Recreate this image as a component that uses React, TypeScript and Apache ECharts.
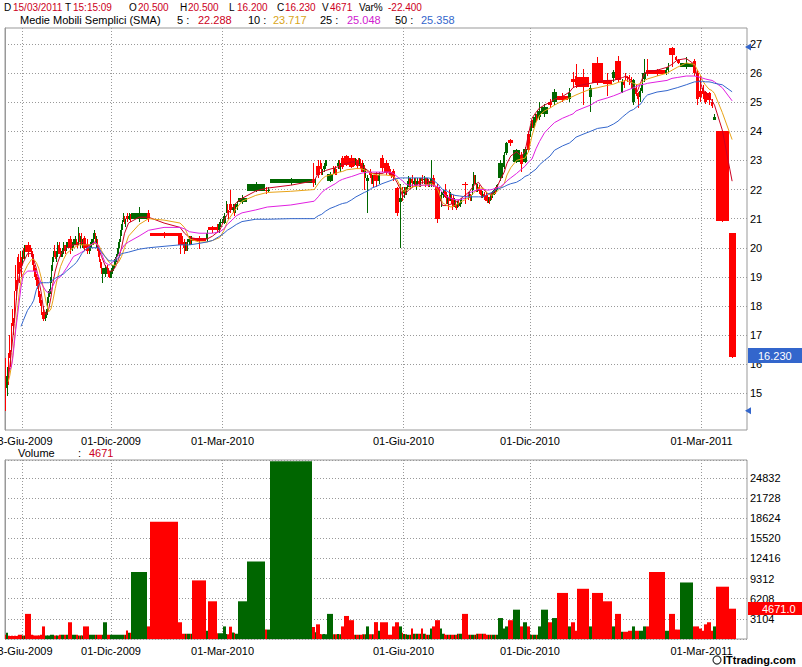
import React, { useEffect, useRef } from "react";
import * as echarts from "echarts";

// Equivolume candles: [open, close, low, high, volume, firstOfSession]
// (each original session may be shown as several thin trading prints; the flag marks the first one)
const candles: number[][] = [
  [15.9, 14.7, 14.4, 16.2, 645, 1],
  [15.2, 15.6, 14.9, 15.9, 970, 1],
  [16.2, 15.9, 15.6, 16.4, 490, 1], [15.9, 15.7, 15.3, 16.0, 480, 0],
  [16.6, 16.4, 16.2, 17.0, 490, 1], [16.4, 16.2, 15.9, 16.5, 480, 0],
  [17.2, 17.0, 16.8, 17.4, 490, 1], [17.0, 16.8, 16.5, 17.1, 480, 0],
  [17.7, 17.5, 17.3, 17.9, 490, 1], [17.5, 17.3, 17.0, 17.6, 480, 0],
  [18.3, 18.1, 17.9, 18.5, 490, 1], [18.1, 17.9, 17.5, 18.2, 480, 0],
  [19.0, 18.8, 18.5, 19.4, 490, 1], [18.8, 18.6, 18.2, 18.9, 480, 0],
  [19.6, 19.3, 19.1, 19.7, 490, 1], [19.3, 19.0, 18.6, 19.4, 480, 0],
  [19.5, 19.4, 19.1, 19.8, 650, 1], [19.4, 19.3, 18.8, 19.5, 640, 0],
  [19.8, 19.6, 19.3, 19.9, 650, 1], [19.6, 19.5, 19.0, 19.7, 640, 0],
  [19.6, 19.8, 19.4, 19.9, 550, 1], [19.8, 19.7, 19.6, 20.0, 530, 0], [19.7, 19.9, 19.6, 20.1, 530, 0],
  [20.1, 19.85, 19.7, 20.2, 3870, 1],
  [19.9, 19.8, 19.7, 20.0, 650, 1], [19.8, 19.6, 19.4, 19.9, 640, 0],
  [19.6, 19.5, 19.4, 19.8, 540, 1], [19.5, 19.3, 19.2, 19.6, 540, 0], [19.3, 19.2, 19.0, 19.4, 530, 0],
  [19.2, 19.0, 18.9, 19.3, 540, 1], [19.0, 18.9, 18.7, 19.1, 540, 0], [18.9, 18.8, 18.6, 19.0, 530, 0],
  [18.8, 18.6, 18.5, 18.9, 540, 1], [18.6, 18.4, 18.3, 18.7, 540, 0], [18.4, 18.3, 18.1, 18.5, 530, 0],
  [18.3, 18.1, 18.0, 18.4, 650, 1], [18.1, 17.9, 17.7, 18.2, 640, 0],
  [17.8, 17.55, 17.5, 18.0, 1940, 1],
  [17.6, 17.7, 17.5, 17.8, 540, 1], [17.7, 17.8, 17.6, 17.9, 540, 0], [17.8, 17.9, 17.7, 18.1, 530, 0],
  [18.0, 18.2, 17.9, 18.3, 540, 1], [18.2, 18.4, 18.1, 18.5, 540, 0], [18.4, 18.5, 18.3, 18.6, 530, 0],
  [18.5, 18.9, 18.4, 19.0, 650, 1], [18.9, 19.2, 18.8, 19.4, 640, 0],
  [19.3, 19.6, 19.2, 19.7, 650, 1], [19.6, 19.8, 19.5, 19.9, 640, 0],
  [19.9, 19.8, 19.7, 20.1, 540, 1], [19.8, 19.7, 19.6, 19.9, 540, 0], [19.7, 19.6, 19.5, 19.8, 530, 0],
  [19.7, 19.8, 19.5, 19.9, 540, 1], [19.8, 20.0, 19.7, 20.2, 540, 0], [20.0, 19.9, 19.8, 20.1, 530, 0],
  [20.0, 19.9, 19.8, 20.2, 650, 1], [19.9, 19.8, 19.7, 20.0, 650, 0], [19.8, 19.8, 19.7, 19.9, 640, 0],
  [19.8, 19.9, 19.7, 20.0, 650, 1], [19.9, 20.1, 19.8, 20.2, 650, 0], [20.1, 20.0, 19.9, 20.1, 640, 0],
  [20.0, 19.9, 19.8, 20.1, 650, 1], [19.9, 20.1, 19.9, 20.2, 650, 0], [20.1, 20.1, 20.0, 20.2, 640, 0],
  [20.3, 20.0, 19.8, 20.4, 2580, 1],
  [20.0, 20.1, 19.9, 20.2, 650, 1], [20.1, 20.2, 20.0, 20.3, 650, 0], [20.2, 20.2, 20.1, 20.3, 640, 0],
  [20.2, 20.3, 20.1, 20.4, 650, 1], [20.3, 20.2, 20.1, 20.3, 650, 0], [20.2, 20.1, 20.0, 20.2, 640, 0],
  [20.2, 20.4, 20.1, 20.7, 540, 1], [20.4, 20.3, 20.2, 20.5, 540, 0], [20.3, 20.3, 20.0, 20.4, 530, 0],
  [20.4, 20.3, 20.2, 20.5, 540, 1], [20.3, 20.2, 20.1, 20.4, 540, 0], [20.2, 20.2, 20.0, 20.3, 530, 0],
  [20.35, 20.0, 19.9, 20.4, 1940, 1],
  [20.1, 19.9, 19.8, 20.3, 1940, 1],
  [19.9, 20.0, 19.8, 20.1, 650, 1], [20.0, 20.1, 19.9, 20.2, 650, 0], [20.1, 20.2, 20.0, 20.3, 640, 0], [20.2, 20.2, 20.1, 20.3, 640, 0],
  [20.2, 20.4, 20.1, 20.5, 650, 1], [20.4, 20.5, 20.3, 20.6, 650, 0], [20.5, 20.3, 20.2, 20.5, 640, 0], [20.3, 20.3, 20.0, 20.4, 640, 0],
  [20.2, 20.0, 19.9, 20.3, 650, 1], [20.0, 19.8, 19.7, 20.1, 650, 0], [19.8, 19.6, 19.5, 19.9, 640, 0],
  [19.5, 19.4, 19.3, 19.6, 650, 1], [19.4, 19.2, 19.1, 19.5, 650, 0], [19.2, 19.2, 18.8, 19.3, 640, 0],
  [19.1, 19.3, 19.0, 19.4, 2580, 1],
  [19.3, 19.2, 19.1, 19.4, 650, 1], [19.2, 19.1, 19.0, 19.3, 650, 0], [19.1, 19.0, 18.95, 19.2, 640, 0], [19.0, 19.1, 18.95, 19.2, 640, 0],
  [19.1, 19.2, 18.95, 19.3, 650, 1], [19.2, 19.3, 19.1, 19.4, 650, 0], [19.3, 19.3, 19.2, 19.4, 640, 0],
  [19.4, 19.5, 19.3, 19.6, 650, 1], [19.5, 19.6, 19.4, 19.7, 650, 0], [19.6, 19.7, 19.5, 19.8, 640, 0],
  [19.8, 19.9, 19.7, 20.0, 650, 1], [19.9, 20.1, 19.8, 20.2, 650, 0], [20.1, 20.2, 20.0, 20.3, 640, 0],
  [20.3, 20.5, 20.2, 20.6, 650, 1], [20.5, 20.7, 20.4, 20.8, 650, 0], [20.7, 20.8, 20.6, 20.95, 640, 0],
  [21.0, 21.1, 20.9, 21.2, 650, 1], [21.1, 20.9, 20.8, 21.1, 650, 0], [20.9, 20.9, 20.7, 21.0, 640, 0],
  [21.1, 21.0, 20.9, 21.2, 1300, 1], [21.0, 21.1, 20.95, 21.2, 970, 0], [21.1, 21.0, 20.9, 21.15, 960, 0],
  [21.0, 21.2, 20.9, 21.4, 10320, 1],
  [21.2, 21.0, 20.9, 21.3, 1940, 1],
  [20.5, 20.4, 20.35, 20.55, 18060, 1],
  [20.5, 20.1, 19.8, 20.5, 2580, 1],
  [20.3, 20.2, 20.1, 20.4, 810, 1], [20.2, 20.0, 19.8, 20.3, 810, 0], [20.0, 20.1, 19.9, 20.2, 810, 0], [20.1, 20.0, 19.9, 20.2, 800, 0],
  [20.1, 20.2, 19.9, 20.3, 810, 1], [20.2, 20.3, 20.1, 20.4, 810, 0], [20.3, 20.2, 20.1, 20.4, 810, 0], [20.2, 20.3, 20.1, 20.4, 800, 0],
  [20.35, 20.25, 19.95, 20.4, 9030, 1],
  [20.3, 20.5, 20.2, 20.6, 1290, 1],
  [20.7, 20.6, 20.5, 20.75, 5810, 1],
  [20.7, 20.6, 20.5, 20.8, 900, 1], [20.6, 20.8, 20.5, 20.9, 900, 0], [20.8, 20.9, 20.7, 21.0, 880, 0], [20.9, 20.9, 20.8, 21.0, 870, 0],
  [20.85, 21.1, 20.8, 21.2, 1940, 1],
  [21.3, 21.4, 21.2, 21.6, 760, 1], [21.4, 21.3, 21.2, 21.5, 750, 0], [21.3, 21.2, 21.0, 21.3, 750, 0],
  [21.5, 21.3, 21.2, 22.0, 1900, 1], [21.3, 21.4, 21.2, 21.5, 990, 0], [21.4, 21.25, 21.1, 21.5, 980, 0],
  [21.3, 21.4, 21.2, 21.5, 810, 1], [21.4, 21.5, 21.3, 21.6, 800, 0],
  [21.55, 21.7, 21.5, 21.8, 5810, 1],
  [21.95, 22.2, 21.9, 22.25, 11930, 1],
  [22.0, 21.95, 21.85, 22.1, 1450, 1], [21.95, 22.0, 21.9, 22.1, 1450, 0],
  [22.2, 22.35, 22.15, 22.4, 27410, 1],
  [22.35, 22.2, 22.1, 22.9, 1850, 1], [22.2, 22.3, 22.15, 22.4, 1050, 0],
  [22.8, 22.5, 22.4, 23.0, 2260, 1],
  [22.9, 22.8, 22.7, 23.0, 760, 1], [22.8, 22.6, 22.5, 22.9, 750, 0], [22.6, 22.6, 22.5, 22.7, 750, 0],
  [22.7, 22.8, 22.6, 22.9, 760, 1], [22.8, 22.9, 22.7, 23.0, 750, 0], [22.9, 22.9, 22.8, 23.0, 750, 0],
  [22.3, 22.55, 22.25, 22.6, 3870, 1],
  [22.7, 22.6, 22.55, 22.8, 730, 1], [22.6, 22.7, 22.55, 22.75, 730, 0], [22.7, 22.6, 22.5, 22.8, 720, 0], [22.6, 22.55, 22.5, 22.7, 720, 0],
  [22.8, 22.9, 22.7, 23.0, 760, 1], [22.9, 22.8, 22.7, 23.0, 750, 0], [22.8, 22.8, 22.6, 22.9, 750, 0],
  [23.1, 22.8, 22.7, 23.15, 1940, 1],
  [23.15, 22.85, 22.8, 23.2, 3550, 1],
  [23.1, 22.8, 22.75, 23.2, 2900, 1],
  [23.0, 22.9, 22.8, 23.1, 650, 1], [22.9, 23.0, 22.85, 23.1, 650, 0], [23.0, 22.9, 22.8, 23.05, 640, 0], [22.9, 22.85, 22.7, 23.0, 640, 0],
  [23.0, 22.9, 22.8, 23.1, 650, 1], [22.9, 23.0, 22.8, 23.1, 650, 0], [23.0, 22.85, 22.7, 23.05, 640, 0], [22.85, 22.8, 22.6, 22.9, 640, 0],
  [22.9, 22.7, 22.6, 23.0, 730, 1], [22.7, 22.8, 22.6, 22.9, 730, 0], [22.8, 22.5, 22.0, 22.85, 720, 0], [22.5, 22.6, 22.4, 22.7, 720, 0],
  [22.3, 22.4, 21.2, 22.5, 1940, 1],
  [22.6, 22.5, 22.4, 22.7, 730, 1], [22.5, 22.3, 22.2, 22.6, 730, 0], [22.3, 22.4, 22.2, 22.5, 720, 0], [22.4, 22.3, 22.1, 22.5, 720, 0],
  [22.5, 22.3, 22.1, 22.6, 2600, 1], [22.3, 22.5, 22.2, 22.6, 1270, 0],
  [23.1, 22.75, 22.6, 23.2, 2580, 1],
  [22.9, 22.6, 22.5, 23.0, 2580, 1],
  [22.85, 22.7, 22.6, 22.9, 650, 1], [22.7, 22.6, 22.5, 22.8, 650, 0], [22.6, 22.55, 22.45, 22.7, 640, 0], [22.55, 22.5, 22.4, 22.6, 640, 0],
  [22.65, 22.45, 22.3, 22.7, 1940, 1],
  [22.05, 21.2, 21.1, 22.1, 2580, 1],
  [21.55, 21.7, 20.0, 22.2, 1940, 1],
  [22.0, 21.8, 21.6, 22.1, 970, 1],
  [21.9, 22.0, 21.7, 22.1, 760, 1], [22.0, 21.9, 21.8, 22.1, 750, 0], [21.9, 22.0, 21.8, 22.1, 750, 0],
  [22.0, 22.2, 22.0, 22.3, 650, 1], [22.2, 22.3, 22.1, 22.45, 650, 0], [22.3, 22.2, 22.1, 22.4, 640, 0], [22.2, 22.3, 22.1, 22.4, 640, 0],
  [22.35, 22.2, 22.1, 22.5, 1600, 1], [22.2, 22.3, 22.15, 22.4, 820, 0], [22.3, 22.2, 22.1, 22.4, 810, 0],
  [22.2, 22.25, 22.0, 22.3, 810, 1], [22.25, 22.3, 22.15, 22.4, 810, 0], [22.3, 22.2, 22.1, 22.4, 810, 0], [22.2, 22.3, 22.1, 22.4, 800, 0],
  [22.4, 22.3, 22.2, 22.5, 1600, 1], [22.3, 22.35, 22.2, 22.45, 820, 0], [22.35, 22.3, 22.1, 22.4, 810, 0],
  [22.3, 22.25, 22.15, 22.4, 650, 1], [22.25, 22.3, 22.15, 22.4, 650, 0], [22.3, 22.2, 22.1, 22.35, 640, 0], [22.2, 22.2, 22.1, 22.3, 640, 0],
  [22.2, 22.4, 22.1, 23.0, 1610, 1],
  [22.4, 22.2, 22.1, 22.5, 1940, 1],
  [22.1, 21.0, 20.85, 22.2, 2900, 1],
  [21.6, 21.8, 21.4, 21.9, 1600, 1], [21.8, 21.9, 21.7, 22.0, 820, 0], [21.9, 21.85, 21.75, 22.0, 810, 0],
  [22.1, 21.8, 21.7, 22.2, 650, 1], [21.8, 21.6, 21.5, 21.9, 650, 0], [21.6, 21.7, 21.5, 21.8, 640, 0], [21.7, 21.5, 21.3, 21.75, 640, 0],
  [21.9, 21.7, 21.6, 22.0, 650, 1], [21.7, 21.8, 21.6, 21.9, 650, 0], [21.8, 21.6, 21.5, 21.85, 640, 0], [21.6, 21.5, 21.3, 21.7, 640, 0],
  [21.7, 21.5, 21.4, 21.8, 650, 1], [21.5, 21.6, 21.4, 21.7, 650, 0], [21.6, 21.45, 21.35, 21.65, 640, 0], [21.45, 21.4, 21.3, 21.5, 640, 0],
  [21.4, 21.5, 21.35, 21.6, 810, 1], [21.5, 21.45, 21.4, 21.6, 810, 0], [21.45, 21.55, 21.4, 21.65, 810, 0], [21.55, 21.6, 21.5, 21.7, 800, 0],
  [22.2, 22.15, 21.5, 22.25, 3870, 1],
  [21.8, 21.75, 21.65, 21.9, 650, 1], [21.75, 21.8, 21.7, 21.9, 650, 0], [21.8, 21.7, 21.6, 21.85, 640, 0], [21.7, 21.7, 21.6, 21.8, 640, 0],
  [21.9, 22.1, 21.8, 22.2, 650, 1], [22.1, 22.4, 22.0, 22.6, 650, 0], [22.4, 22.3, 22.2, 22.5, 640, 0], [22.3, 22.4, 22.2, 22.5, 640, 0],
  [22.1, 22.0, 21.9, 22.2, 810, 1], [22.0, 22.1, 21.9, 22.2, 810, 0], [22.1, 21.95, 21.85, 22.15, 810, 0], [21.95, 21.9, 21.8, 22.0, 800, 0],
  [21.9, 21.8, 21.7, 22.0, 810, 1], [21.8, 21.85, 21.7, 21.95, 810, 0], [21.85, 21.75, 21.65, 21.9, 810, 0], [21.75, 21.7, 21.6, 21.8, 800, 0],
  [21.8, 21.7, 21.6, 21.9, 650, 1], [21.7, 21.65, 21.55, 21.8, 650, 0], [21.65, 21.7, 21.55, 21.75, 640, 0], [21.7, 21.6, 21.5, 21.75, 640, 0],
  [21.7, 21.8, 21.6, 21.85, 650, 1], [21.8, 21.75, 21.65, 21.9, 650, 0], [21.75, 21.85, 21.7, 21.95, 640, 0], [21.85, 21.9, 21.8, 22.0, 640, 0],
  [21.9, 22.0, 21.8, 22.05, 650, 1], [22.0, 21.95, 21.85, 22.1, 650, 0], [21.95, 22.05, 21.9, 22.15, 640, 0], [22.05, 22.1, 22.0, 22.2, 640, 0],
  [22.4, 22.9, 22.3, 23.0, 3230, 1],
  [22.8, 23.2, 22.7, 23.3, 1610, 1],
  [23.25, 23.6, 23.2, 23.65, 1940, 1],
  [23.7, 23.6, 23.5, 23.75, 2900, 1],
  [22.95, 23.35, 22.9, 23.4, 4520, 1],
  [23.2, 22.9, 22.6, 23.3, 1940, 1],
  [22.95, 23.4, 22.9, 23.45, 2580, 1],
  [23.9, 23.35, 23.3, 24.0, 1940, 1],
  [23.9, 24.1, 23.8, 24.2, 650, 1], [24.1, 24.3, 24.0, 24.4, 650, 0], [24.3, 24.2, 24.1, 24.4, 640, 0], [24.2, 24.4, 24.1, 24.5, 640, 0],
  [24.3, 24.4, 24.1, 24.5, 650, 1], [24.4, 24.5, 24.3, 24.6, 650, 0], [24.5, 24.45, 24.35, 24.6, 640, 0], [24.45, 24.6, 24.4, 24.7, 640, 0],
  [24.5, 24.7, 24.4, 25.0, 1940, 1],
  [24.6, 24.85, 24.5, 24.95, 4520, 1],
  [25.0, 24.9, 24.8, 25.1, 2580, 1],
  [25.0, 25.35, 24.9, 25.45, 3230, 1],
  [25.2, 25.05, 25.0, 25.3, 7100, 1],
  [25.1, 25.3, 25.0, 25.5, 1940, 1],
  [25.8, 25.7, 25.5, 26.05, 2580, 1],
  [25.9, 25.6, 25.5, 26.3, 1290, 1],
  [25.85, 25.5, 24.9, 26.15, 7740, 1],
  [25.2, 25.5, 24.65, 25.6, 1940, 1],
  [26.35, 25.65, 25.6, 26.55, 7100, 1],
  [25.75, 25.6, 25.2, 26.0, 5810, 1],
  [25.85, 26.05, 25.7, 26.1, 1940, 1],
  [26.4, 25.75, 25.7, 26.6, 3870, 1],
  [25.35, 25.7, 25.3, 25.8, 1130, 1], [25.7, 25.6, 25.5, 25.75, 1130, 0],
  [25.9, 25.85, 25.75, 26.0, 1130, 1], [25.85, 25.8, 25.7, 25.9, 1130, 0],
  [25.85, 25.8, 25.6, 25.95, 1290, 1], [25.8, 25.75, 25.5, 25.85, 1290, 0],
  [25.0, 25.75, 24.9, 25.8, 1940, 1],
  [25.5, 25.3, 25.2, 25.6, 1290, 1], [25.3, 25.1, 24.8, 25.35, 1290, 0],
  [25.2, 25.4, 25.0, 25.5, 1290, 1], [25.4, 25.6, 25.3, 26.0, 1290, 0],
  [25.8, 26.0, 25.7, 26.5, 1940, 1],
  [26.1, 25.95, 25.9, 26.5, 1940, 1],
  [26.1, 25.97, 25.9, 26.15, 10320, 1],
  [26.0, 26.1, 25.95, 26.2, 1290, 1], [26.1, 26.2, 26.05, 26.35, 1290, 0],
  [26.85, 26.6, 26.2, 26.9, 3870, 1],
  [26.55, 26.45, 26.4, 26.6, 1450, 1], [26.45, 26.35, 26.3, 26.5, 1450, 0],
  [26.2, 26.35, 26.15, 26.55, 8710, 1],
  [26.4, 26.0, 25.9, 26.5, 1940, 1],
  [26.0, 25.1, 24.9, 26.1, 1940, 1],
  [25.4, 25.2, 25.0, 25.9, 1610, 1],
  [25.5, 25.3, 25.1, 25.6, 1290, 1],
  [25.35, 25.0, 24.95, 25.4, 2260, 1],
  [25.3, 25.05, 24.9, 25.35, 2580, 1],
  [25.0, 24.85, 24.8, 25.1, 1290, 1],
  [24.4, 24.5, 24.4, 24.6, 1940, 1],
  [24.0, 20.92, 20.9, 24.0, 8060, 1],
  [20.5, 16.23, 16.2, 20.5, 4671, 1],
];

// moving averages, one value per session
const ma5: (number | null)[] = [
  null, null, 15.5, 15.9, 16.4, 16.9, 17.4, 18.0, 18.6, 19.0, 19.3, 19.5, 19.8, 19.8, 19.6, 19.3, 18.9, 18.5, 17.9, 17.7,
  17.9, 18.3, 18.8, 19.2, 19.5, 19.75, 19.9, 20.0, 20.05, 20.1, 20.1, 20.15, 20.2, 20.15, 20.1, 20.1, 20.2, 20.0, 19.7, 19.4,
  19.2, 19.2, 19.35, 19.6, 20.0, 20.5, 20.85, 21.05, 21.05, 20.85, 20.7, 20.5, 20.35, 20.3, 20.3, 20.4, 20.6, 20.95, 21.15, 21.35,
  21.55, 21.7, 21.95, 22.05, 22.15, 22.3, 22.55, 22.6, 22.65, 22.7, 22.75, 22.8, 22.85, 22.9, 22.95, 22.95, 22.85, 22.75, 22.65, 22.55,
  22.55, 22.55, 22.6, 22.55, 22.45, 22.25, 22.0, 21.75, 21.85, 22.0, 22.1, 22.2, 22.25, 22.27, 22.28, 22.2, 21.95, 21.45, 21.45, 21.5,
  21.55, 21.65, 21.8, 21.95, 22.15, 22.25, 22.0, 21.85, 21.85, 22.0, 22.35, 22.6, 22.9, 23.15, 23.3, 23.15, 23.3, 23.9, 24.45, 24.65,
  24.8, 24.9, 25.0, 25.1, 25.2, 25.35, 25.5, 25.55, 25.6, 25.65, 25.7, 25.75, 25.75, 25.8, 25.85, 25.9, 25.75, 25.5, 25.35, 25.7,
  26.0, 26.05, 26.1, 26.2, 26.3, 26.45, 26.5, 26.3, 25.8, 25.7, 25.45, 25.35, 25.2, 25.05, 24.9, 24.05, 22.288,
];
const ma10: (number | null)[] = [
  null, null, 15.4, 15.6, 15.9, 16.3, 16.8, 17.3, 17.8, 18.4, 18.9, 19.1, 19.4, 19.6, 19.6, 19.5, 19.3, 19.0, 18.6, 18.1,
  17.8, 17.9, 18.2, 18.6, 19.0, 19.35, 19.6, 19.8, 19.9, 20.0, 20.05, 20.1, 20.1, 20.1, 20.1, 20.1, 20.15, 20.1, 19.9, 19.7,
  19.5, 19.4, 19.4, 19.5, 19.7, 20.0, 20.4, 20.8, 21.0, 20.95, 20.85, 20.7, 20.3, 20.2, 20.2, 20.25, 20.35, 20.6, 20.9, 21.15,
  21.35, 21.6, 21.8, 21.9, 21.94, 22.0, 22.2, 22.35, 22.45, 22.5, 22.55, 22.6, 22.62, 22.68, 22.7, 22.72, 22.72, 22.68, 22.62, 22.55,
  22.5, 22.5, 22.5, 22.48, 22.45, 22.35, 22.1, 21.95, 21.95, 22.05, 22.1, 22.12, 22.15, 22.18, 22.2, 22.15, 22.0, 21.55, 21.45, 21.4,
  21.45, 21.55, 21.65, 21.75, 21.9, 22.05, 22.05, 21.85, 21.8, 21.9, 22.05, 22.2, 22.5, 22.75, 23.0, 23.05, 23.08, 23.3, 23.85, 24.3,
  24.55, 24.7, 24.8, 24.9, 25.05, 25.15, 25.2, 25.25, 25.35, 25.45, 25.5, 25.58, 25.62, 25.68, 25.72, 25.75, 25.7, 25.65, 25.6, 25.65,
  25.75, 25.8, 25.9, 26.0, 26.1, 26.2, 26.35, 26.3, 26.1, 25.95, 25.75, 25.6, 25.45, 25.4, 25.3, 24.65, 23.717,
];
const ma25: (number | null)[] = [
  null, null, null, 15.8, 15.9, 16.2, 16.7, 17.2, 17.6, 18.1, 18.65, 19.05, 19.2, 19.2, 19.2, 19.2, 19.0, 18.8, 18.65, 18.5,
  18.45, 18.55, 18.7, 18.85, 18.95, 19.0, 19.15, 19.3, 19.5, 19.7, 19.75, 19.8, 19.85, 19.9, 20.0, 20.1, 20.2, 20.05, 19.8, 19.5,
  19.4, 19.5, 19.6, 19.75, 19.95, 20.1, 20.2, 20.4, 20.6, 20.7, 20.7, 20.65, 20.55, 20.5, 20.5, 20.5, 20.55, 20.65, 20.8, 20.95,
  21.1, 21.2, 21.3, 21.4, 21.47, 21.6, 21.75, 21.9, 22.0, 22.1, 22.2, 22.3, 22.35, 22.4, 22.45, 22.5, 22.55, 22.58, 22.6, 22.6,
  22.6, 22.6, 22.6, 22.6, 22.55, 22.45, 22.35, 22.3, 22.2, 22.15, 22.15, 22.15, 22.15, 22.15, 22.15, 22.12, 22.1, 21.9, 21.75, 21.7,
  21.65, 21.65, 21.7, 21.9, 21.95, 22.0, 22.0, 21.98, 22.0, 22.05, 22.1, 22.2, 22.3, 22.4, 22.55, 22.7, 22.8, 22.95, 23.05, 23.4,
  23.65, 23.95, 24.15, 24.3, 24.45, 24.55, 24.6, 24.7, 24.8, 24.9, 25.05, 25.15, 25.22, 25.28, 25.35, 25.4, 25.45, 25.5, 25.55, 25.6,
  25.62, 25.65, 25.7, 25.75, 25.82, 25.85, 25.9, 25.9, 25.88, 25.85, 25.83, 25.8, 25.77, 25.75, 25.7, 25.5, 25.048,
];
const ma50: (number | null)[] = [
  null, null, null, null, null, null, null, null, null, null, 17.3, 17.5, 17.85, 18.05, 18.2, 18.55, 18.75, 18.8, 18.8, 18.8,
  18.8, 18.85, 18.9, 18.95, 19.0, 19.05, 19.1, 19.2, 19.3, 19.4, 19.5, 19.65, 19.8, 19.9, 20.0, 20.0, 20.0, 20.0, 19.85, 19.7,
  19.55, 19.55, 19.55, 19.65, 19.8, 19.82, 19.85, 19.95, 20.0, 20.05, 20.1, 20.1, 20.1, 20.15, 20.2, 20.25, 20.4, 20.5, 20.6, 20.7,
  20.8, 20.9, 20.98, 20.98, 21.0, 21.0, 21.1, 21.15, 21.25, 21.35, 21.42, 21.48, 21.52, 21.55, 21.65, 21.75, 21.82, 21.9, 21.95, 22.05,
  22.12, 22.2, 22.25, 22.3, 22.35, 22.38, 22.4, 22.4, 22.4, 22.4, 22.4, 22.4, 22.4, 22.4, 22.38, 22.3, 22.2, 22.0, 21.95, 21.85,
  21.8, 21.78, 21.75, 21.75, 21.75, 21.75, 21.75, 21.85, 21.9, 22.0, 22.05, 22.1, 22.15, 22.2, 22.25, 22.35, 22.45, 22.5, 22.6, 22.7,
  22.85, 23.0, 23.15, 23.35, 23.5, 23.6, 23.7, 23.8, 23.9, 24.0, 24.1, 24.15, 24.25, 24.35, 24.5, 24.6, 24.7, 24.75, 24.85, 24.95,
  25.15, 25.25, 25.35, 25.4, 25.45, 25.5, 25.6, 25.7, 25.7, 25.72, 25.72, 25.7, 25.7, 25.68, 25.65, 25.6, 25.358,
];

// date labels: session index (0-based) where each date starts
const dateLabelIdx = [11, 41, 57, 88, 118, 150];
const dateLabelText = ["03-Giu-2009", "01-Dic-2009", "01-Mar-2010", "01-Giu-2010", "01-Dic-2010", "01-Mar-2011"];

const priceTicks = [15, 16, 17, 18, 19, 20, 21, 22, 23, 24, 25, 26, 27];
const volumeInterval = 3104;

const header1 = [
  { t: "D", c: "k", x: 4 }, { t: "15/03/2011", c: "r", x: 13 }, { t: "T", c: "k", x: 65 }, { t: "15:15:09", c: "r", x: 73 },
  { t: "O", c: "k", x: 129 }, { t: "20.500", c: "r", x: 138 }, { t: "H", c: "k", x: 180 }, { t: "20.500", c: "r", x: 188 },
  { t: "L", c: "k", x: 229 }, { t: "16.200", c: "r", x: 237 }, { t: "C", c: "k", x: 277 }, { t: "16.230", c: "r", x: 285 },
  { t: "V", c: "k", x: 322 }, { t: "4671", c: "r", x: 330 }, { t: "Var%", c: "k", x: 359 }, { t: "-22.400", c: "r", x: 388 },
];
const header2 = [
  { t: "Medie Mobili Semplici (SMA)", c: "#000", x: 20 },
  { t: "5 :", c: "#000", x: 177 }, { t: "22.288", c: "#cc0022", x: 198 },
  { t: "10 :", c: "#000", x: 248 }, { t: "23.717", c: "#d9a520", x: 273 },
  { t: "25 :", c: "#000", x: 320 }, { t: "25.048", c: "#d020d0", x: 347 },
  { t: "50 :", c: "#000", x: 395 }, { t: "25.358", c: "#3366cc", x: 421 },
];

const RED = "#ff0000";
const GREEN = "#006600";
const VALRED = "#cc0022";
const BLUE = "#3366cc";
const MA_COLORS = ["#cc0022", "#e8a317", "#e020e0", "#3366cc"];
const FONT = "Liberation Sans, Arial, sans-serif";

export default function App() {
  const ref = useRef<HTMLDivElement>(null);
  useEffect(() => {
    document.body.style.margin = "0";
    const chart = echarts.init(ref.current!, null, { renderer: "svg" });

    // cumulative volume positions
    const starts: number[] = [];
    let acc = 0;
    candles.forEach((c) => { starts.push(acc); acc += c[4]; });
    const total = acc;
    const xMax = total * (742 / 730.74);
    // session boundaries
    const sessStart: number[] = [];
    candles.forEach((c, i) => { if (c[5] === 1) sessStart.push(starts[i]); });
    const sessEnd = sessStart.slice(1).concat([total]);
    const centers = sessStart.map((s, k) => (s + sessEnd[k]) / 2);

    const rows = candles.map((c, i) => [starts[i], starts[i] + c[4], c[0], c[1], c[2], c[3], c[1] >= c[0] ? 1 : -1]);
    const volRows = candles.map((c, i) => [starts[i], starts[i] + c[4], c[4], c[1] >= c[0] ? 1 : -1]);
    const tickVals = dateLabelIdx.map((i) => sessStart[i]);
    const labelFor = (v: number) => {
      for (let k = 0; k < tickVals.length; k++) if (Math.abs(tickVals[k] - v) < 1) return dateLabelText[k];
      return "";
    };
    const lastVol = candles[candles.length - 1][4];
    const lastClose = candles[candles.length - 1][1];
    const maxHigh = Math.max(...candles.map((c) => c[3]));
    const minLow = Math.min(...candles.map((c) => c[2]));

    const xAxisOf = (gridIndex: number) => ({
      type: "value", gridIndex, min: 0, max: xMax,
      axisLine: { show: false },
      axisTick: { show: false, customValues: tickVals },
      axisLabel: {
        customValues: tickVals, formatter: (v: number) => labelFor(v), color: "#000",
        fontSize: 11, fontFamily: FONT, margin: gridIndex === 0 ? 5 : 6,
      },
      splitLine: { show: true, lineStyle: { color: "#999", type: [1, 2], width: 1 } },
    });

    const renderCandle = (params: any, api: any) => {
      const xs = api.value(0), xe = api.value(1);
      const o = api.value(2), c = api.value(3), l = api.value(4), h = api.value(5);
      const color = api.value(6) > 0 ? GREEN : RED;
      const pO = api.coord([xs, o]);
      const pC = api.coord([xe, c]);
      const pL = api.coord([xs, l]);
      const pH = api.coord([xs, h]);
      const x0 = Math.round(pO[0]);
      const x1 = Math.round(pC[0]);
      const w = Math.max(1, x1 - x0);
      const top = Math.round(Math.min(pO[1], pC[1]));
      const hh = Math.max(1, Math.round(Math.abs(pO[1] - pC[1])));
      const cx = x0 + Math.floor(w / 2) + 0.5;
      return {
        type: "group",
        children: [
          { type: "line", shape: { x1: cx, y1: Math.round(pH[1]), x2: cx, y2: Math.round(pL[1]) }, style: { stroke: color, lineWidth: 1 } },
          { type: "rect", shape: { x: x0, y: top, width: w, height: hh }, style: { fill: color } },
        ],
      };
    };
    const renderVolume = (params: any, api: any) => {
      const xs = api.value(0), xe = api.value(1), v = api.value(2);
      const color = api.value(3) > 0 ? GREEN : RED;
      const p0 = api.coord([xs, v]);
      const p1 = api.coord([xe, 0]);
      const x0 = Math.round(p0[0]);
      const w = Math.max(1, Math.round(p1[0]) - x0);
      return { type: "rect", shape: { x: x0, y: p0[1], width: w, height: p1[1] - p0[1] }, style: { fill: color } };
    };

    const maSeries = [ma5, ma10, ma25, ma50].map((arr, k) => ({
      type: "line", xAxisIndex: 0, yAxisIndex: 0, showSymbol: false, symbol: "none", connectNulls: true,
      data: arr.map((v, i) => [centers[i], v == null ? "-" : v]),
      lineStyle: { color: MA_COLORS[k], width: 1 }, z: 5, silent: true,
    }));

    const gridBase = { left: 5, right: 55, containLabel: false, outerBoundsMode: "none", show: true, borderColor: "#999", borderWidth: 1, backgroundColor: "#fff" };
    chart.setOption({
      animation: false,
      backgroundColor: "#fff",
      textStyle: { fontFamily: FONT },
      grid: [
        { ...gridBase, top: 28, height: 402 },
        { ...gridBase, top: 460, height: 179 },
      ],
      xAxis: [xAxisOf(0), xAxisOf(1)],
      yAxis: [
        {
          type: "value", gridIndex: 0, position: "right", min: 13.74, max: 27.55, scale: true,
          axisLine: { show: true, lineStyle: { color: "#999" } },
          axisTick: { show: false, customValues: priceTicks },
          axisLabel: { customValues: priceTicks, formatter: (v: number) => String(v), color: "#000", fontSize: 11, fontFamily: FONT, margin: 3 },
          splitLine: { show: true, lineStyle: { color: "#999", type: [1, 2], width: 1 } },
        },
        {
          type: "value", gridIndex: 1, position: "right", min: 0, max: 27586, interval: volumeInterval,
          axisLine: { show: true, lineStyle: { color: "#999" } },
          axisTick: { show: false },
          axisLabel: { showMinLabel: false, showMaxLabel: false, formatter: (v: number) => String(v), color: "#000", fontSize: 11, fontFamily: FONT, margin: 3 },
          splitLine: { show: true, lineStyle: { color: "#999", type: [1, 2], width: 1 } },
        },
      ],
      series: [
        { type: "custom", xAxisIndex: 0, yAxisIndex: 0, renderItem: renderCandle, data: rows, encode: { x: [0, 1], y: [2, 3, 4, 5] }, z: 3, silent: true },
        ...maSeries,
        { type: "custom", xAxisIndex: 1, yAxisIndex: 1, renderItem: renderVolume, data: volRows, encode: { x: [0, 1], y: 2 }, z: 3, silent: true },
      ],
    });

    const yClose = chart.convertToPixel({ yAxisIndex: 0 }, lastClose) as number;
    const yVol = chart.convertToPixel({ yAxisIndex: 1 }, lastVol) as number;
    const yMax = chart.convertToPixel({ yAxisIndex: 0 }, maxHigh) as number;
    const yMin = chart.convertToPixel({ yAxisIndex: 0 }, minLow) as number;
    const axisX = 747;

    const txt = (t: string, x: number, y: number, fill: string, size = 11, extra: any = {}) => ({
      type: "text", x, y, silent: true, z: 100,
      style: { text: t, fill, font: `${size}px ${FONT}`, verticalAlign: "middle", ...extra },
    });
    const g: any[] = [];
    header1.forEach((h) => g.push(txt(h.t, h.x, 7, h.c === "r" ? VALRED : "#000", 10)));
    header2.forEach((h) => g.push(txt(h.t, h.x, 20, h.c)));
    g.push(txt("Volume", 18, 453, "#000"));
    g.push(txt(":", 78, 453, "#000"));
    g.push(txt(String(lastVol), 89, 453, VALRED));
    // markers for highest high / lowest low
    [yMax, yMin].forEach((y) => g.push({
      type: "polygon", z: 100, silent: true,
      shape: { points: [[axisX - 2, y], [axisX + 4, y - 3.5], [axisX + 4, y + 3.5]] }, style: { fill: BLUE },
    }));
    // last value boxes
    g.push({ type: "rect", z: 100, silent: true, shape: { x: 748, y: Math.round(yClose) - 10, width: 54, height: 15 }, style: { fill: BLUE } });
    g.push(txt(lastClose.toFixed(3), 758, Math.round(yClose) - 2.5, "#fff"));
    g.push({ type: "rect", z: 100, silent: true, shape: { x: 748, y: Math.round(yVol) - 7, width: 54, height: 13 }, style: { fill: RED } });
    g.push(txt(lastVol.toFixed(1), 762, Math.round(yVol) - 0.5, "#fff"));
    // logo
    g.push({ type: "circle", z: 100, silent: true, shape: { cx: 717, cy: 660, r: 4 }, style: { fill: "none", stroke: "#333", lineWidth: 1.2 } });
    g.push(txt("ITtrading.com", 723, 660, "#000", 11, { font: `bold 11px ${FONT}` }));
    chart.setOption({ graphic: g });

    return () => chart.dispose();
  }, []);
  return <div ref={ref} style={{ width: 802, height: 667 }} />;
}
